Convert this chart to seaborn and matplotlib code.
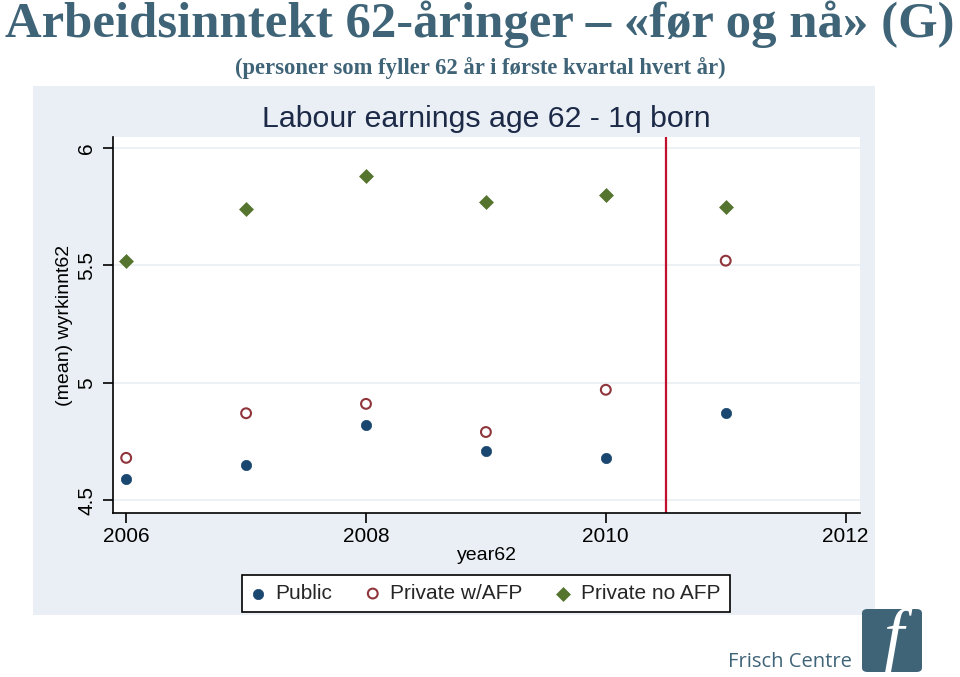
import matplotlib
matplotlib.use("Agg")
import matplotlib.pyplot as plt
import pandas as pd
import seaborn as sns
from matplotlib.patches import FancyBboxPatch, Rectangle

# values
YEARS = [2006, 2007, 2008, 2009, 2010, 2011]
PUBLIC = [4.59, 4.65, 4.82, 4.71, 4.68, 4.87]
PRIVATE_AFP = [4.68, 4.87, 4.91, 4.79, 4.97, 5.52]
PRIVATE_NO_AFP = [5.52, 5.74, 5.88, 5.77, 5.80, 5.75]
SERIES = ["Public", "Private w/AFP", "Private no AFP"]
Y_TICKS = [4.5, 5, 5.5, 6]
Y_TICK_LABELS = ["4.5", "5", "5.5", "6"]
X_TICKS = [2006, 2008, 2010, 2012]
CUTOFF_YEAR = 2010.5

SLATE = "#3f6478"
NAVY = "#1a476f"
MAROON = "#90353b"
GREEN = "#55752f"
BG = "#e9eff4"

df = pd.DataFrame({
    "year62": YEARS * 3,
    "wyrkinnt62": PUBLIC + PRIVATE_AFP + PRIVATE_NO_AFP,
    "group": [s for s in SERIES for _ in YEARS],
})

sns.set_theme(style="white")
plt.rcParams["font.family"] = ["Liberation Sans", "DejaVu Sans"]

W, H = 960, 677
fig = plt.figure(figsize=(9.6, 6.77), dpi=100, facecolor="white")

# Stata graph region background
fig.patches.append(Rectangle((33 / W, 1 - 615 / H), (875 - 33) / W, (615 - 86) / H,
                             transform=fig.transFigure, facecolor=BG, edgecolor="none", zorder=-5))

ax = fig.add_axes([113 / W, 1 - 513 / H, (860 - 113) / W, (513 - 137) / H])
ax.set_facecolor("white")

styles = {
    "Public": dict(marker="o", color=NAVY, edgecolor=NAVY, s=55, linewidth=0.5),
    "Private w/AFP": dict(marker="o", facecolor="none", edgecolor=MAROON, s=50, linewidth=1.5),
    "Private no AFP": dict(marker="D", color=GREEN, edgecolor=GREEN, s=50, linewidth=0.5),
}
for name in SERIES:
    sns.scatterplot(data=df[df["group"] == name], x="year62", y="wyrkinnt62",
                    ax=ax, label=name, zorder=3, **styles[name])

ax.axvline(CUTOFF_YEAR, color="#c0102e", linewidth=1.6, zorder=2)

ax.set_xlim(2005.89, 2012.12)
ax.set_ylim(4.445, 6.047)
ax.set_xticks(X_TICKS)
ax.set_xticklabels([str(x) for x in X_TICKS])
ax.set_yticks(Y_TICKS)
ax.set_yticklabels(Y_TICK_LABELS, rotation=90, va="center")
ax.yaxis.grid(True, color="#edf1f4", linewidth=1.4)
ax.xaxis.grid(False)
for side in ("top", "right"):
    ax.spines[side].set_visible(False)
for side in ("left", "bottom"):
    ax.spines[side].set_color("black")
    ax.spines[side].set_linewidth(1.2)
ax.tick_params(axis="both", which="major", length=7, width=1.2, color="black",
               labelsize=15, labelcolor="black", direction="out")
ax.tick_params(axis="y", pad=5)
ax.tick_params(axis="x", pad=3)
ax.tick_params(left=True, bottom=True)

ax.set_xlabel("year62", fontsize=14, color="black", labelpad=1)
ax.set_ylabel("(mean) wyrkinnt62", fontsize=14, color="black", labelpad=3)
ax.set_title("Labour earnings age 62 - 1q born", fontsize=21.8, color="#1c2a48", pad=7)

handles, labels = ax.get_legend_handles_labels()
ax.get_legend().remove()
leg = fig.legend(handles, labels, loc="center", bbox_to_anchor=(486 / W, 1 - 593.5 / H),
                 ncol=3, frameon=True, fancybox=False, edgecolor="black", framealpha=1,
                 fontsize=15, handlelength=0.6, handletextpad=0.55, columnspacing=1.65,
                 borderpad=0.45, borderaxespad=0.3)
leg.get_frame().set_linewidth(1.2)

# slide header
fig.text(0.5, 1 - 24 / H, "Arbeidsinntekt 62-åringer – «før og nå» (G)",
         ha="center", va="center", fontsize=36.5, fontweight="bold", color=SLATE,
         family=["Liberation Serif", "DejaVu Serif"])
fig.text(0.5, 1 - 68 / H, "(personer som fyller 62 år i første kvartal hvert år)",
         ha="center", va="center", fontsize=16.3, fontweight="bold", color=SLATE,
         family=["Liberation Serif", "DejaVu Serif"])

# Frisch Centre logo
fig.text(852 / W, 1 - 662 / H, "Frisch Centre", ha="right", va="center",
         fontsize=14.5, color=SLATE, family=["Open Sans", "DejaVu Sans"])
fig.patches.append(FancyBboxPatch((862 / W, 1 - 672 / H), 60 / W, 63 / H,
                                  boxstyle="round,pad=0,rounding_size=0.006",
                                  transform=fig.transFigure, facecolor=SLATE,
                                  edgecolor="none", zorder=1))
fig.text(893 / W, 1 - 641 / H, "f", ha="center", va="center", fontsize=52,
         style="italic", color="white", family=["Liberation Serif", "DejaVu Serif"])

fig.savefig("out.png", dpi=100, facecolor="white")
